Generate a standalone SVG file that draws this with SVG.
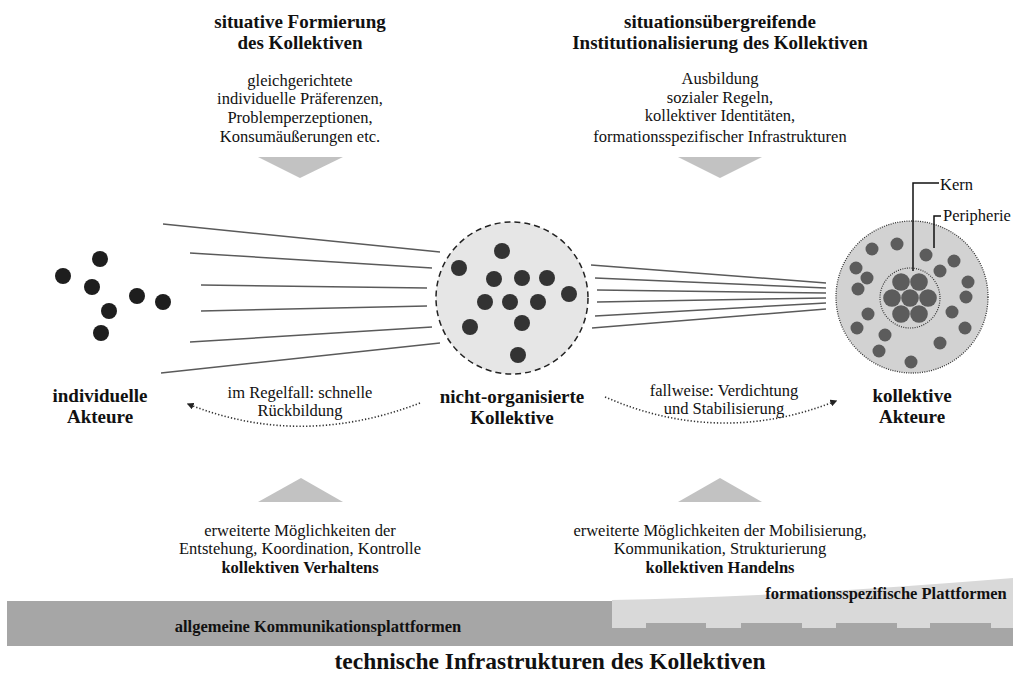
<svg xmlns="http://www.w3.org/2000/svg" width="1013" height="673" viewBox="0 0 1013 673">
<style>
text{font-family:"Liberation Serif","Times New Roman",serif;fill:#111;text-anchor:middle}
.b{font-weight:bold;font-size:19px}
.r{font-size:16.5px}
.bb{font-weight:bold;font-size:16.5px}
.fan{stroke:#5a5a5a;stroke-width:1.5;fill:none}
.d1{fill:#1e1e1e}
.d2{fill:#333}
.d3{fill:#5c5c5c}
.tri{fill:#c2c2c2}
.arc{fill:none;stroke:#333;stroke-width:1.6;stroke-dasharray:1.3,2}
</style>
<defs>
<marker id="ah" viewBox="0 0 10 10" refX="8" refY="5" markerWidth="7" markerHeight="7" markerUnits="userSpaceOnUse" orient="auto">
<path d="M0,0 L10,5 L0,10 Z" fill="#222"/>
</marker>
</defs>
<rect width="1013" height="673" fill="#fff"/>

<g id="top-left">
<text class="b" x="300" y="28">situative Formierung</text>
<text class="b" x="300" y="49">des Kollektiven</text>
<text class="r" x="300" y="86">gleichgerichtete</text>
<text class="r" x="300" y="104">individuelle Präferenzen,</text>
<text class="r" x="300" y="123">Problemperzeptionen,</text>
<text class="r" x="300" y="142">Konsumäußerungen etc.</text>
<polygon class="tri" points="258,157 343,157 300,178"/>
</g>

<g id="top-right">
<text class="b" x="720" y="28">situationsübergreifende</text>
<text class="b" x="720" y="49">Institutionalisierung des Kollektiven</text>
<text class="r" x="720" y="84">Ausbildung</text>
<text class="r" x="720" y="103">sozialer Regeln,</text>
<text class="r" x="720" y="121">kollektiver Identitäten,</text>
<text class="r" x="720" y="142">formationsspezifischer Infrastrukturen</text>
<polygon class="tri" points="678,157 762,157 720,178"/>
</g>

<g id="connectors">
<line class="fan" x1="163" y1="224" x2="440" y2="252"/>
<line class="fan" x1="190" y1="253" x2="432" y2="268"/>
<line class="fan" x1="201" y1="285" x2="427" y2="288"/>
<line class="fan" x1="201" y1="311" x2="427" y2="306"/>
<line class="fan" x1="190" y1="342" x2="432" y2="327"/>
<line class="fan" x1="161" y1="373" x2="440" y2="343"/>
<line class="fan" x1="591" y1="265" x2="826" y2="283"/>
<line class="fan" x1="595" y1="278" x2="826" y2="288"/>
<line class="fan" x1="597" y1="290" x2="826" y2="293"/>
<line class="fan" x1="597" y1="302" x2="826" y2="298"/>
<line class="fan" x1="595" y1="316" x2="826" y2="303"/>
<line class="fan" x1="592" y1="328" x2="826" y2="309"/>
<path class="arc" d="M420,403 Q300,449 188,404" marker-end="url(#ah)"/>
<path class="arc" d="M605,397 Q720,447 836,401" marker-end="url(#ah)"/>
</g>

<g id="individual-actors">
<circle class="d1" cx="100" cy="259" r="8"/>
<circle class="d1" cx="63" cy="276" r="8"/>
<circle class="d1" cx="92" cy="287" r="8"/>
<circle class="d1" cx="137" cy="296" r="8"/>
<circle class="d1" cx="163" cy="302" r="8"/>
<circle class="d1" cx="109" cy="311" r="8"/>
<circle class="d1" cx="101" cy="333" r="8"/>
<text class="b" x="100" y="402">individuelle</text>
<text class="b" x="100" y="423">Akteure</text>
</g>

<g id="non-organized-collectives">
<circle cx="512" cy="298" r="76" fill="#e6e6e6" stroke="#222" stroke-width="1.5" stroke-dasharray="6,4"/>
<circle class="d2" cx="502" cy="251" r="8"/>
<circle class="d2" cx="459" cy="268" r="8"/>
<circle class="d2" cx="494" cy="279" r="8"/>
<circle class="d2" cx="522" cy="278" r="8"/>
<circle class="d2" cx="547" cy="278" r="8"/>
<circle class="d2" cx="569" cy="294" r="8"/>
<circle class="d2" cx="485" cy="302" r="8"/>
<circle class="d2" cx="510" cy="302" r="8"/>
<circle class="d2" cx="538" cy="302" r="8"/>
<circle class="d2" cx="470" cy="327" r="8"/>
<circle class="d2" cx="522" cy="323" r="8"/>
<circle class="d2" cx="518" cy="355" r="8"/>
<text class="b" x="512" y="403">nicht-organisierte</text>
<text class="b" x="512" y="424">Kollektive</text>
</g>

<g id="collective-actors">
<circle cx="912" cy="297" r="76" fill="#d2d2d2" stroke="#333" stroke-width="1.3" stroke-dasharray="1,1.3"/>
<circle cx="910" cy="298" r="30" fill="#d2d2d2" stroke="#333" stroke-width="1.2" stroke-dasharray="1,1.3"/>
<circle class="d3" cx="872" cy="249" r="6.5"/>
<circle class="d3" cx="897" cy="244" r="6.5"/>
<circle class="d3" cx="926" cy="255" r="6.5"/>
<circle class="d3" cx="954" cy="261" r="6.5"/>
<circle class="d3" cx="856" cy="268" r="6.5"/>
<circle class="d3" cx="867" cy="278" r="6.5"/>
<circle class="d3" cx="940" cy="271" r="6.5"/>
<circle class="d3" cx="858" cy="289" r="6.5"/>
<circle class="d3" cx="968" cy="282" r="6.5"/>
<circle class="d3" cx="966" cy="297" r="6.5"/>
<circle class="d3" cx="868" cy="314" r="6.5"/>
<circle class="d3" cx="952" cy="312" r="6.5"/>
<circle class="d3" cx="857" cy="328" r="6.5"/>
<circle class="d3" cx="965" cy="328" r="6.5"/>
<circle class="d3" cx="885" cy="335" r="6.5"/>
<circle class="d3" cx="879" cy="351" r="6.5"/>
<circle class="d3" cx="940" cy="343" r="6.5"/>
<circle class="d3" cx="911" cy="362" r="6.5"/>
<circle class="d3" cx="901" cy="282" r="8.8"/>
<circle class="d3" cx="919" cy="282" r="8.8"/>
<circle class="d3" cx="892" cy="298" r="8.8"/>
<circle class="d3" cx="910" cy="298" r="8.8"/>
<circle class="d3" cx="928" cy="298" r="8.8"/>
<circle class="d3" cx="901" cy="314" r="8.8"/>
<circle class="d3" cx="919" cy="314" r="8.8"/>
<polyline points="913,271 913,183 939,183" fill="none" stroke="#111" stroke-width="1.5"/>
<polyline points="934,248 934,216 941,216" fill="none" stroke="#111" stroke-width="1.5"/>
<text class="r" x="940" y="190" style="text-anchor:start">Kern</text>
<text class="r" x="943" y="221" style="text-anchor:start">Peripherie</text>
<text class="b" x="912" y="402">kollektive</text>
<text class="b" x="912" y="423">Akteure</text>
</g>

<g id="arrow-labels">
<text class="r" x="300" y="398">im Regelfall: schnelle</text>
<text class="r" x="300" y="416">Rückbildung</text>
<text class="r" x="724" y="396">fallweise: Verdichtung</text>
<text class="r" x="724" y="414">und Stabilisierung</text>
</g>

<g id="bottom-left">
<polygon class="tri" points="301,478 258,502 343,502"/>
<text class="r" x="300" y="536">erweiterte Möglichkeiten der</text>
<text class="r" x="300" y="554">Entstehung, Koordination, Kontrolle</text>
<text class="bb" x="300" y="573">kollektiven Verhaltens</text>
</g>

<g id="bottom-right">
<polygon class="tri" points="720,478 678,502 762,502"/>
<text class="r" x="720" y="536">erweiterte Möglichkeiten der Mobilisierung,</text>
<text class="r" x="720" y="554">Kommunikation, Strukturierung</text>
<text class="bb" x="720" y="573">kollektiven Handelns</text>
</g>

<g id="infrastructure">
<rect x="7" y="601" width="1006" height="45" fill="#a6a6a6"/>
<path d="M612,600 Q781,597 1013,578 L1013,628 L991,628 L991,623 L930,623 L930,628 L897,628 L897,623 L836,623 L836,628 L802,628 L802,623 L741,623 L741,628 L706,628 L706,623 L646,623 L646,628 L612,628 Z" fill="#d9d9d9"/>
<text class="bb" x="318" y="632">allgemeine Kommunikationsplattformen</text>
<text class="bb" x="886" y="599">formationsspezifische Plattformen</text>
<text class="b" x="550" y="669" style="font-size:23.5px">technische Infrastrukturen des Kollektiven</text>
</g>
</svg>
